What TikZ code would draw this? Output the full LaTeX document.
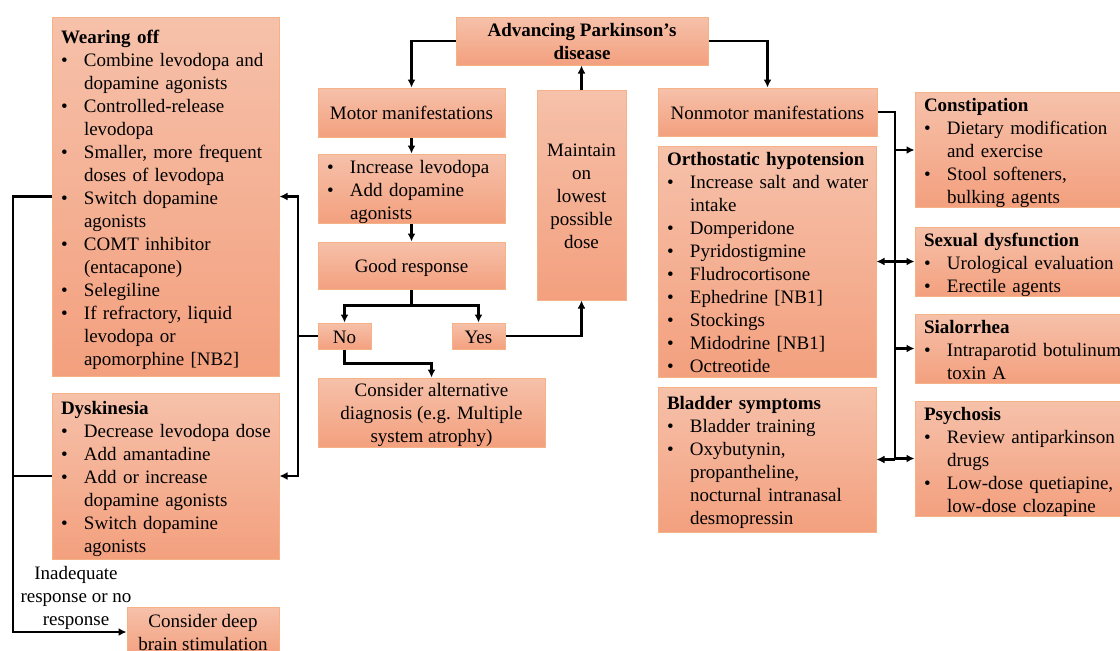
\documentclass[tikz,border=0pt]{standalone}
\usepackage{fontspec}
\setmainfont{Liberation Serif}
\usetikzlibrary{arrows.meta}
\definecolor{boxtop}{RGB}{246,193,170}
\definecolor{boxbot}{RGB}{243,160,126}
\definecolor{boxline}{RGB}{245,178,135}
\newcommand\bu{\makebox[23pt][l]{\textbullet}}
\newcommand\ctext[1]{\raisebox{-2.5pt}[\height][\depth]{\begin{tabular}{@{}c@{}}#1\end{tabular}}}
\newcommand\ltext[1]{\raisebox{-3pt}[\height][\depth]{\begin{tabular}{@{}l@{}l@{}}#1\end{tabular}}}
\newcommand\hd[1]{\multicolumn{2}{@{}l@{}}{\textbf{#1}}}
\begin{document}
\begin{tikzpicture}[x=1pt,y=-1pt,
  box/.style={draw=boxline, line width=1pt, top color=boxtop, bottom color=boxbot,
    inner ysep=0pt, font=\fontsize{19}{23}\selectfont},
  cbox/.style={box, inner xsep=4pt, align=center},
  lbox/.style={box, inner xsep=9pt, align=left},
  conn/.style={line width=2.4pt},
  arr/.style={conn, -{Latex[length=8pt,width=8pt]}},
  lab/.style={font=\fontsize{19}{23}\selectfont, align=center, inner sep=0pt}
]
\fill[white] (0,0) rectangle (1120,651);
\useasboundingbox (0,0) rectangle (1120,651);
\clip (0,0) rectangle (1120,651);

% central column
\node[cbox, minimum width=252pt, minimum height=48pt] (adv) at (582,41)
  {\ctext{\textbf{Advancing Parkinson’s}\\\textbf{disease}}};
\node[cbox, minimum width=187pt, minimum height=49pt] (motor) at (411.5,112.5) {\ctext{Motor manifestations}};
\node[lbox, text width=169pt, minimum height=69pt] (incr) at (411.5,188.5)
  {\ltext{\bu&Increase levodopa\\\bu&Add dopamine\\&agonists}};
\node[cbox, minimum width=187pt, minimum height=47pt] (good) at (411.5,265.5) {\ctext{Good response}};
\node[cbox, minimum width=53pt, minimum height=26pt] (no) at (344.5,336) {\ctext{No}};
\node[cbox, minimum width=53pt, minimum height=26pt] (yes) at (478.5,336) {\ctext{Yes}};
\node[cbox, minimum width=227pt, minimum height=69pt] (alt) at (431.5,412.5)
  {\ctext{Consider alternative\\diagnosis (e.g. Multiple\\system atrophy)}};
\node[cbox, minimum width=89pt, minimum height=210pt] (maint) at (581.5,195)
  {\ctext{Maintain\\on\\lowest\\possible\\dose}};

% left column
\node[lbox, text width=209pt, minimum height=359pt] (wear) at (165.5,196.5)
  {\ltext{\hd{Wearing off}\\
   \bu&Combine levodopa and\\&dopamine agonists\\
   \bu&Controlled-release\\&levodopa\\
   \bu&Smaller, more frequent\\&doses of levodopa\\
   \bu&Switch dopamine\\&agonists\\
   \bu&COMT inhibitor\\&(entacapone)\\
   \bu&Selegiline\\
   \bu&If refractory, liquid\\&levodopa or\\&apomorphine [NB2]}};
\node[lbox, text width=209pt, minimum height=166pt] (dysk) at (165.5,476)
  {\ltext{\hd{Dyskinesia}\\
   \bu&Decrease levodopa dose\\
   \bu&Add amantadine\\
   \bu&Add or increase\\&dopamine agonists\\
   \bu&Switch dopamine\\&agonists}};
\node[cbox, minimum width=152pt, minimum height=50pt] (dbs) at (203,632)
  {\ctext{Consider deep\\brain stimulation}};
\node[lab] (inad) at (76,598) {Inadequate\\response or no\\response};

% nonmotor column
\node[cbox, minimum width=219pt, minimum height=48pt] (nonm) at (767.5,112) {\ctext{Nonmotor manifestations}};
\node[lbox, text width=200pt, minimum height=231pt] (orth) at (767,261.5)
  {\ltext{\hd{Orthostatic hypotension}\\
   \bu&Increase salt and water\\&intake\\
   \bu&Domperidone\\
   \bu&Pyridostigmine\\
   \bu&Fludrocortisone\\
   \bu&Ephedrine [NB1]\\
   \bu&Stockings\\
   \bu&Midodrine [NB1]\\
   \bu&Octreotide}};
\node[lbox, text width=200pt, minimum height=145pt] (blad) at (767,459.5)
  {\ltext{\hd{Bladder symptoms}\\
   \bu&Bladder training\\
   \bu&Oxybutynin,\\&propantheline,\\&nocturnal intranasal\\&desmopressin}};

% right column
\node[lbox, text width=212pt, minimum height=114pt] (const) at (1030,150)
  {\ltext{\hd{Constipation}\\
   \bu&Dietary modification\\&and exercise\\
   \bu&Stool softeners,\\&bulking agents}};
\node[lbox, text width=212pt, minimum height=63pt] (sex) at (1030,261.5)
  {\ltext{\hd{Sexual dysfunction}\\
   \bu&Urological evaluation\\
   \bu&Erectile agents}};
\node[lbox, text width=212pt, minimum height=63pt] (sial) at (1030,348.5)
  {\ltext{\hd{Sialorrhea}\\
   \bu&Intraparotid botulinum\\&toxin A}};
\node[lbox, text width=212pt, minimum height=113pt] (psych) at (1030,458.5)
  {\ltext{\hd{Psychosis}\\
   \bu&Review antiparkinson\\&drugs\\
   \bu&Low-dose quetiapine,\\&low-dose clozapine}};

% junction coordinates
\coordinate (lj) at (298,0);
\coordinate (ll) at (13,0);
\coordinate (rj) at (895,0);

% connectors: central
\draw[arr] (adv.west) -| (motor.north);
\draw[arr] (adv.east) -| (nonm.north);
\draw[arr] (motor.south) -- (incr.north);
\draw[arr] (incr.south) -- (good.north);
\draw[arr] (good.south) -- ++(0,16) -| (no.north);
\draw[arr] (good.south) -- ++(0,16) -| (yes.north);
\draw[arr] (yes.east) -| (maint.south);
\draw[arr] (maint.north) -- (maint.north|-adv.south);
\draw[arr] (no.south) -- ++(0,14) -| (alt.north);
\draw[arr] (no.west) -| (lj|-wear.east) -- (wear.east);
\draw[arr] (no.west) -| (lj|-dysk.east) -- (dysk.east);

% connectors: left
\draw[arr] (wear.west) -| (ll|-dbs.west) -- (dbs.west);
\draw[conn] (dysk.west) -- (ll|-dysk.west);

% connectors: right
\draw[conn] (nonm.east) -| (rj|-psych.west);
\draw[arr] (rj|-const.west) -- (const.west);
\draw[arr] (rj|-sex.west) -- (sex.west);
\draw[arr] (rj|-orth.east) -- (orth.east);
\draw[arr] (rj|-sial.west) -- (sial.west);
\draw[arr] (rj|-psych.west) -- (psych.west);
\draw[arr] (rj|-blad.east) -- (blad.east);
\end{tikzpicture}
\end{document}
